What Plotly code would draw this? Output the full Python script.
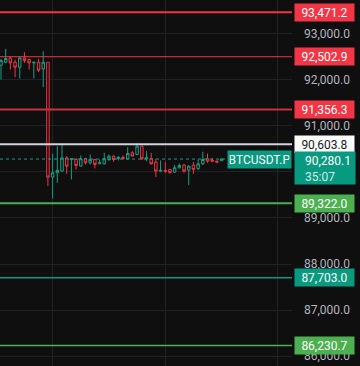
import plotly.graph_objects as go

# ---- data ----
bars = list(range(48))
opens = [92318, 92383, 92477, 92383, 92275, 92477, 92441, 92369, 92383, 92239,
         92383, 89888, 89982, 90018, 90307, 90271, 90271, 90126, 90286, 90199,
         90271, 90177, 90177, 90271, 90343, 90293, 90315, 90286, 90416, 90380,
         90560, 90286, 90286, 90213, 90018, 90033, 90054, 89996, 90090, 90148,
         90040, 90148, 90076, 90177, 90286, 90257, 90235, 90243]
highs = [92456, 92673, 92499, 92441, 92513, 92600, 92441, 92383, 92456, 92622,
         92383, 90394, 90560, 90611, 90343, 90286, 90307, 90358, 90307, 90380,
         90286, 90271, 90416, 90380, 90358, 90343, 90358, 90539, 90452, 90618,
         90560, 90452, 90416, 90286, 90249, 90221, 90069, 90148, 90185, 90170,
         90141, 90221, 90271, 90438, 90401, 90307, 90249, 90290]
lows = [92007, 92369, 92224, 92058, 92029, 92369, 92224, 92029, 92166, 91841,
        89693, 89425, 89765, 90004, 89960, 89837, 90054, 90126, 90163, 90163,
        90076, 90177, 90163, 90235, 90221, 90249, 90286, 90271, 90343, 90365,
        90257, 90235, 90163, 89888, 89996, 89982, 89967, 89982, 90076, 89982,
        89714, 89960, 90040, 90148, 90199, 90213, 90199, 90235]
closes = [92419, 92463, 92369, 92275, 92477, 92419, 92369, 92383, 92210, 92383,
          89888, 89982, 90033, 90307, 90126, 90286, 90141, 90286, 90199, 90271,
          90163, 90199, 90286, 90343, 90271, 90315, 90286, 90401, 90343, 90560,
          90286, 90307, 90177, 90018, 90033, 90018, 89982, 90090, 90141, 90018,
          90126, 90054, 90177, 90271, 90235, 90235, 90213, 90280.1]

level_prices = [93471.2, 92502.9, 91356.3, 90603.8, 89322.0, 87703.0, 86230.7]
level_labels = ["93,471.2", "92,502.9", "91,356.3", "90,603.8", "89,322.0", "87,703.0", "86,230.7"]
level_colors = ["#f23645", "#f23645", "#c9303d", "#d1d4dc", "#4caf50", "#089981", "#4caf50"]
level_widths = [2, 1, 2, 2, 2, 1.5, 1.5]
label_bg = ["#f23645", "#f23645", "#f23645", "#ffffff", "#4caf50", "#089981", "#4caf50"]
label_fg = ["#ffffff", "#ffffff", "#ffffff", "#131722", "#ffffff", "#ffffff", "#ffffff"]

# 90,000.0 is fully hidden behind the live price tag in the reference
tick_vals = [86000, 87000, 88000, 89000, 90000, 91000, 92000, 93000]
tick_text = ["86,000.0", "87,000.0", "88,000.0", "89,000.0", "", "91,000.0", "92,000.0", "93,000.0"]

symbol = "BTCUSDT.P"
last_price = 90280.1
last_price_text = "90,280.1"
countdown = "35:07"

BG = "#0f0f0f"
UP = "#1a9e86"
DN = "#f23645"
TAG = "#089981"
FONT = "Roboto"
XL = 1 + 2 / 292  # left edge of price tags, in paper units

fig = go.Figure()
fig.add_trace(go.Candlestick(
    x=bars, open=opens, high=highs, low=lows, close=closes,
    increasing=dict(line=dict(color=UP, width=1), fillcolor=BG),
    decreasing=dict(line=dict(color=DN, width=1), fillcolor=BG),
    whiskerwidth=0, showlegend=False, hoverinfo="skip",
))

shapes = []
annotations = []
for p, lab, c, w, bg, fg in zip(level_prices, level_labels, level_colors, level_widths, label_bg, label_fg):
    shapes.append(dict(type="line", xref="paper", x0=0, x1=1, yref="y", y0=p, y1=p,
                       line=dict(color=c, width=w), layer="above"))
    annotations.append(dict(xref="paper", x=XL, xanchor="left", yref="y", y=p,
                            yanchor="middle", text=lab, showarrow=False,
                            bgcolor=bg, width=56, height=14, borderpad=1.5, align="center",
                            font=dict(family=FONT, size=12, color=fg)))

# current price dotted line
shapes.append(dict(type="line", xref="paper", x0=0, x1=1, yref="y", y0=last_price, y1=last_price,
                   line=dict(color=UP, width=1, dash="dot"), layer="above"))
annotations.append(dict(xref="paper", x=1, xanchor="right", yref="y", y=last_price,
                        yanchor="middle", text=symbol, showarrow=False, bgcolor=TAG,
                        width=60, height=14, borderpad=1.5, align="center",
                        font=dict(family=FONT, size=12, color="#ffffff")))
# live price tag: box, then the two text lines
annotations.append(dict(xref="paper", x=XL, xanchor="left", yref="y", y=last_price,
                        yanchor="top", yshift=8, showarrow=False, bgcolor=TAG,
                        text="&nbsp;", width=57, height=29, borderpad=1.5,
                        font=dict(family=FONT, size=12, color=TAG)))
annotations.append(dict(xref="paper", x=XL + 9 / 292, xanchor="left", yref="y", y=last_price,
                        yanchor="top", yshift=7, showarrow=False, align="left",
                        text=f"{last_price_text}<br><span style='color:#cdeee6'>{countdown}</span>",
                        font=dict(family=FONT, size=12, color="#ffffff")))

fig.update_layout(
    width=360, height=366,
    margin=dict(l=0, r=68, t=0, b=0),
    paper_bgcolor=BG, plot_bgcolor=BG,
    shapes=shapes, annotations=annotations,
    showlegend=False, boxgap=0.25,
    xaxis=dict(range=[-0.21, 62.0], showticklabels=False, ticks="",
               tickmode="linear", tick0=11, dtick=24, showgrid=True,
               gridcolor="#222222", gridwidth=1, zeroline=False,
               rangeslider=dict(visible=False), fixedrange=True),
    yaxis=dict(range=[85785, 93735], side="right", tickmode="array",
               tickvals=tick_vals, ticktext=tick_text, showgrid=True,
               gridcolor="#222222", gridwidth=1, zeroline=False,
               ticks="", ticklabelstandoff=11,
               tickfont=dict(family=FONT, size=12, color="#b2b5be"), fixedrange=True),
)

fig.write_html("out.html", config=dict(displayModeBar=False))
